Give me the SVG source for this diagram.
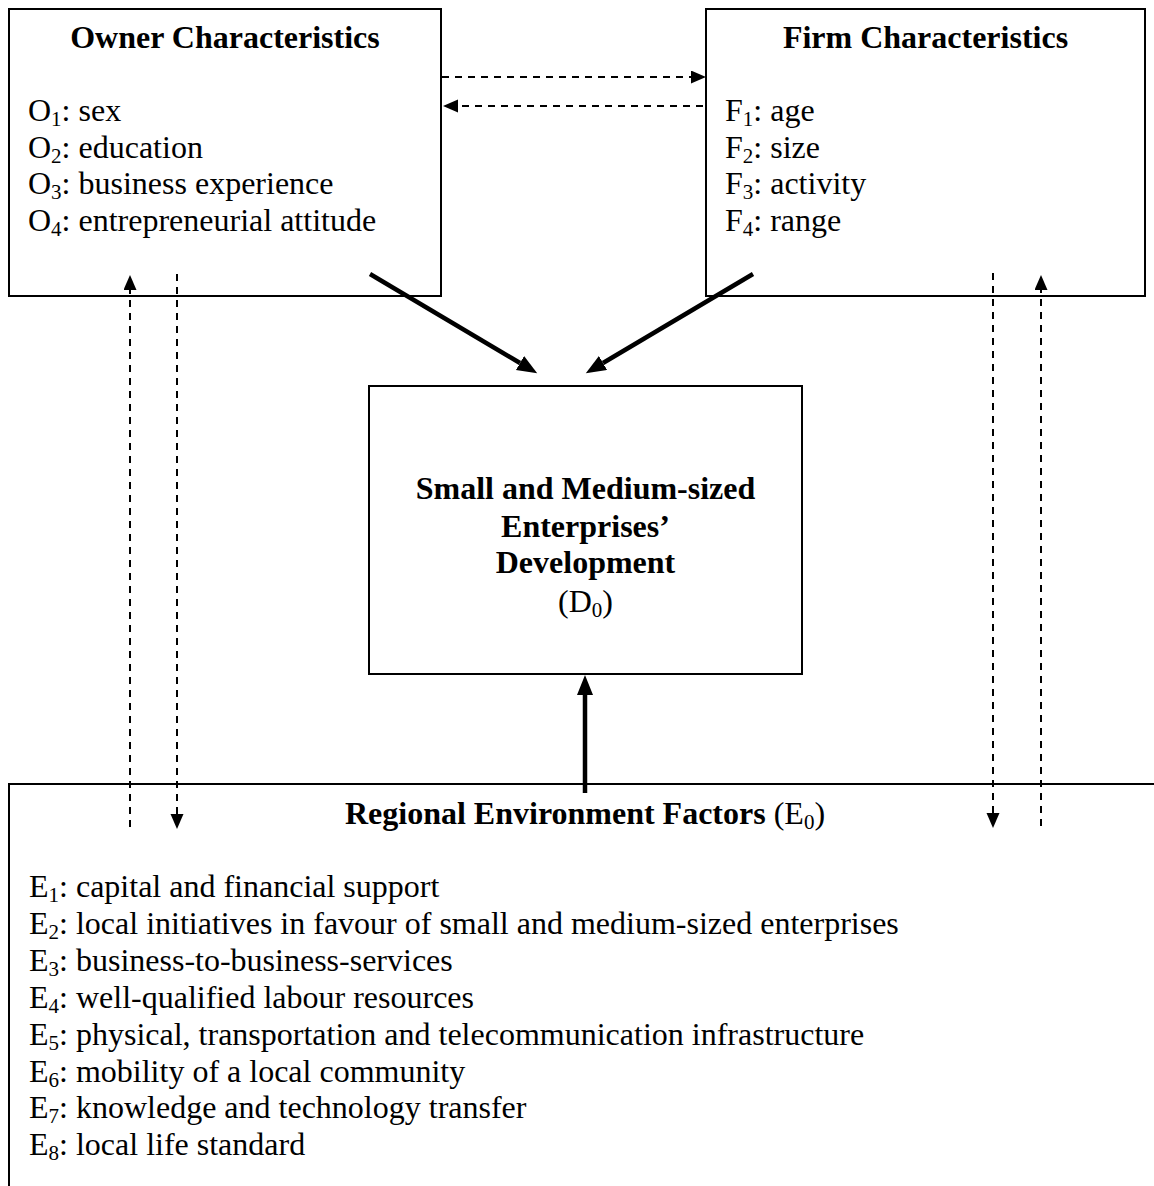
<svg xmlns="http://www.w3.org/2000/svg" width="1154" height="1186" viewBox="0 0 1154 1186">
<style>
text{font-family:"Liberation Serif","Times New Roman",serif;font-size:32px;fill:#000}
.b{font-weight:bold}
.box{fill:#fff;stroke:#000;stroke-width:2}
.dash{stroke:#000;stroke-width:2;stroke-dasharray:7 6;fill:none}
.thick{stroke:#000;stroke-width:4.5;fill:none}
.sub{font-size:21px}
</style>
<defs>
<marker id="ah" markerUnits="userSpaceOnUse" markerWidth="16" markerHeight="14" refX="0" refY="6.5" orient="auto">
<path d="M0,0 L15,6.5 L0,13 z" fill="#000"/>
</marker>
<marker id="ahb" markerUnits="userSpaceOnUse" markerWidth="22" markerHeight="18" refX="0" refY="8" orient="auto">
<path d="M0,0 L20,8 L0,16 z" fill="#000"/>
</marker>
</defs>
<rect width="1154" height="1186" fill="#fff"/>

<g id="owner">
<rect class="box" x="9" y="9" width="432" height="287"/>
<text class="b" x="225" y="48" text-anchor="middle">Owner Characteristics</text>
<text x="28" y="121">O<tspan class="sub" dy="5">1</tspan><tspan dy="-5">: sex</tspan></text>
<text x="28" y="157.5">O<tspan class="sub" dy="5">2</tspan><tspan dy="-5">: education</tspan></text>
<text x="28" y="194">O<tspan class="sub" dy="5">3</tspan><tspan dy="-5">: business experience</tspan></text>
<text x="28" y="230.5">O<tspan class="sub" dy="5">4</tspan><tspan dy="-5">: entrepreneurial attitude</tspan></text>
</g>

<g id="firm">
<rect class="box" x="706" y="9" width="439" height="287"/>
<text class="b" x="925.5" y="48" text-anchor="middle">Firm Characteristics</text>
<text x="725" y="121">F<tspan class="sub" dy="5">1</tspan><tspan dy="-5">: age</tspan></text>
<text x="725" y="157.5">F<tspan class="sub" dy="5">2</tspan><tspan dy="-5">: size</tspan></text>
<text x="725" y="194">F<tspan class="sub" dy="5">3</tspan><tspan dy="-5">: activity</tspan></text>
<text x="725" y="230.5">F<tspan class="sub" dy="5">4</tspan><tspan dy="-5">: range</tspan></text>
</g>

<g id="sme">
<rect class="box" x="369" y="386" width="433" height="288"/>
<text class="b" x="585.5" y="499" text-anchor="middle">Small and Medium-sized</text>
<text class="b" x="585.5" y="537" text-anchor="middle">Enterprises’</text>
<text class="b" x="585.5" y="573" text-anchor="middle">Development</text>
<text x="585.5" y="612" text-anchor="middle">(D<tspan class="sub" dy="5">0</tspan><tspan dy="-5">)</tspan></text>
</g>

<g id="environment">
<path d="M1154,784 H9 V1186" fill="none" stroke="#000" stroke-width="2"/>
<text x="585" y="824" text-anchor="middle"><tspan class="b">Regional Environment Factors </tspan>(E<tspan class="sub" dy="5">0</tspan><tspan dy="-5">)</tspan></text>
<text x="29" y="897">E<tspan class="sub" dy="5">1</tspan><tspan dy="-5">: capital and financial support</tspan></text>
<text x="29" y="934">E<tspan class="sub" dy="5">2</tspan><tspan dy="-5">: local initiatives in favour of small and medium-sized enterprises</tspan></text>
<text x="29" y="971">E<tspan class="sub" dy="5">3</tspan><tspan dy="-5">: business-to-business-services</tspan></text>
<text x="29" y="1008">E<tspan class="sub" dy="5">4</tspan><tspan dy="-5">: well-qualified labour resources</tspan></text>
<text x="29" y="1045">E<tspan class="sub" dy="5">5</tspan><tspan dy="-5">: physical, transportation and telecommunication infrastructure</tspan></text>
<text x="29" y="1081.5">E<tspan class="sub" dy="5">6</tspan><tspan dy="-5">: mobility of a local community</tspan></text>
<text x="29" y="1118">E<tspan class="sub" dy="5">7</tspan><tspan dy="-5">: knowledge and technology transfer</tspan></text>
<text x="29" y="1155">E<tspan class="sub" dy="5">8</tspan><tspan dy="-5">: local life standard</tspan></text>
</g>

<g id="connectors">
<line class="dash" x1="442" y1="77" x2="691" y2="77" marker-end="url(#ah)"/>
<line class="dash" x1="703" y1="106" x2="458" y2="106" marker-end="url(#ah)"/>
<line class="thick" x1="370" y1="274" x2="520" y2="363" marker-end="url(#ahb)"/>
<line class="thick" x1="753" y1="274" x2="603" y2="363" marker-end="url(#ahb)"/>
<line class="thick" x1="585" y1="793" x2="585" y2="695" marker-end="url(#ahb)"/>
<line class="dash" x1="130" y1="827" x2="130" y2="290" marker-end="url(#ah)"/>
<line class="dash" x1="177" y1="274" x2="177" y2="814" marker-end="url(#ah)"/>
<line class="dash" x1="993" y1="273" x2="993" y2="813" marker-end="url(#ah)"/>
<line class="dash" x1="1041" y1="826" x2="1041" y2="290" marker-end="url(#ah)"/>
</g>
</svg>
